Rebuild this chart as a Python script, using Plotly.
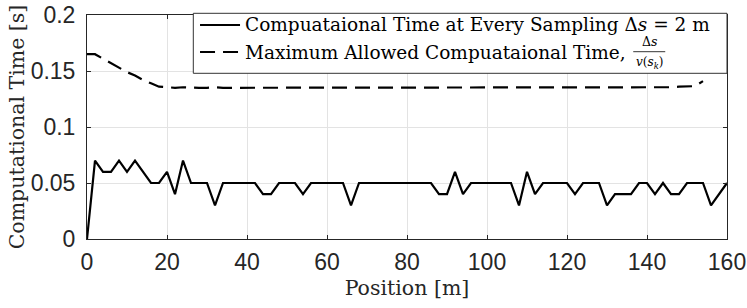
import plotly.graph_objects as go

# Position samples (every 2 m)
pos = list(range(0, 162, 2))
comp_time = [0.0, 0.07, 0.06, 0.06, 0.07, 0.06, 0.07, 0.06, 0.05, 0.05,
             0.06, 0.04, 0.07, 0.05, 0.05, 0.05, 0.03, 0.05, 0.05, 0.05,
             0.05, 0.05, 0.04, 0.04, 0.05, 0.05, 0.05, 0.04, 0.05, 0.05,
             0.05, 0.05, 0.05, 0.03, 0.05, 0.05, 0.05, 0.05, 0.05, 0.05,
             0.05, 0.05, 0.05, 0.05, 0.04, 0.04, 0.06, 0.04, 0.05, 0.05,
             0.05, 0.05, 0.05, 0.05, 0.03, 0.06, 0.04, 0.05, 0.05, 0.05,
             0.05, 0.04, 0.05, 0.05, 0.05, 0.03, 0.04, 0.04, 0.04, 0.05,
             0.05, 0.04, 0.05, 0.04, 0.04, 0.05, 0.05, 0.05, 0.03, 0.04,
             0.05]

max_pos = list(range(0, 156, 2))
max_time = [0.165, 0.165, 0.161, 0.157, 0.153, 0.149, 0.146, 0.142, 0.139, 0.136,
            0.1355, 0.135, 0.1355, 0.135, 0.135, 0.135, 0.1355, 0.135, 0.135, 0.1355,
            0.1355, 0.135, 0.135, 0.135, 0.1355, 0.1355, 0.135, 0.1355, 0.135, 0.135,
            0.135, 0.1355, 0.1355, 0.135, 0.135, 0.135, 0.1355, 0.135, 0.135, 0.1355,
            0.1355, 0.1355, 0.135, 0.135, 0.135, 0.1355, 0.135, 0.1355, 0.135, 0.135,
            0.135, 0.135, 0.1355, 0.135, 0.135, 0.135, 0.1355, 0.135, 0.135, 0.135,
            0.1355, 0.135, 0.135, 0.1355, 0.135, 0.135, 0.135, 0.135, 0.1355, 0.135,
            0.135, 0.1355, 0.135, 0.1355, 0.136, 0.136, 0.1365, 0.141]

x_ticks = [0, 20, 40, 60, 80, 100, 120, 140, 160]
y_ticks = [0, 0.05, 0.1, 0.15, 0.2]
y_tick_text = ["0", "0.05", "0.1", "0.15", "0.2"]

legend_solid = "Compuataional Time at Every Sampling Δ<i>s</i> = 2 m"
legend_dashed = "Maximum Allowed Compuataional Time,"
frac_num = "Δ<i>s</i>"
frac_den = "<i>v</i>(<i>s<sub>k</sub></i>)"

serif = "DejaVu Serif, serif"
sans = "Liberation Sans, Arial, sans-serif"
ink = "#262626"
solid_dash = "solid"
dashed_dash = "15px,8px"

fig = go.Figure()
fig.add_trace(go.Scatter(
    x=pos, y=comp_time, mode="lines",
    line=dict(color="black", width=2.2, dash=solid_dash),
    name=legend_solid, showlegend=False,
))
fig.add_trace(go.Scatter(
    x=max_pos, y=max_time, mode="lines",
    line=dict(color="black", width=2.2, dash=dashed_dash),
    name=legend_dashed, showlegend=False,
))

axis_common = dict(
    showgrid=True, gridcolor="#e3e3e3", gridwidth=1,
    showline=True, linecolor=ink, linewidth=1, mirror="ticks",
    ticks="inside", ticklen=4, tickcolor=ink,
    tickfont=dict(family=sans, size=23, color=ink),
    zeroline=False, automargin=False,
)

# ---- hand-built legend (paper coordinates) ----
box = dict(x0=0.1661, x1=1.0, y0=0.7397, y1=1.0076)
row1_y, row2_y = 0.9554, 0.8348
sample_x0, sample_x1, text_x = 0.1766, 0.2391, 0.2442
frac_x, frac_half, frac_bar_y = 0.8785, 0.025, 0.8362

shapes = [
    dict(type="rect", xref="paper", yref="paper", **box,
         line=dict(color="#333333", width=1), fillcolor="white", layer="above"),
    dict(type="line", xref="paper", yref="paper", x0=sample_x0, x1=sample_x1,
         y0=row1_y, y1=row1_y, line=dict(color="black", width=2.2, dash=solid_dash)),
    dict(type="line", xref="paper", yref="paper", x0=sample_x0, x1=sample_x1,
         y0=row2_y, y1=row2_y, line=dict(color="black", width=2.2, dash=dashed_dash)),
    dict(type="line", xref="paper", yref="paper", x0=frac_x - frac_half, x1=frac_x + frac_half,
         y0=frac_bar_y, y1=frac_bar_y, line=dict(color="black", width=0.8)),
]

annotations = [
    dict(text=legend_solid, xref="paper", yref="paper", x=text_x, y=row1_y,
         xanchor="left", yanchor="middle", showarrow=False,
         font=dict(family=serif, size=18.5, color="black")),
    dict(text=legend_dashed, xref="paper", yref="paper", x=text_x, y=row2_y,
         xanchor="left", yanchor="middle", showarrow=False,
         font=dict(family=serif, size=18.5, color="black")),
    dict(text=frac_num, xref="paper", yref="paper", x=frac_x, y=frac_bar_y + 0.003,
         xanchor="center", yanchor="bottom", showarrow=False,
         font=dict(family=serif, size=12.5, color="black")),
    dict(text=frac_den, xref="paper", yref="paper", x=frac_x, y=frac_bar_y - 0.004,
         xanchor="center", yanchor="top", showarrow=False,
         font=dict(family=serif, size=12, color="black")),
]

fig.update_layout(
    width=747, height=308,
    margin=dict(l=87, r=20, t=15, b=69),
    paper_bgcolor="white", plot_bgcolor="white",
    showlegend=False,
    shapes=shapes, annotations=annotations,
    xaxis=dict(
        range=[0, 160], tickvals=x_ticks, ticklabelstandoff=2,
        title=dict(text="Position [m]", font=dict(family=serif, size=20.5, color=ink), standoff=7),
        **axis_common,
    ),
    yaxis=dict(
        range=[0, 0.2], tickvals=y_ticks, ticktext=y_tick_text, ticklabelstandoff=6,
        title=dict(text="Computational Time [s]", font=dict(family=serif, size=20.5, color=ink), standoff=0),
        **axis_common,
    ),
)

fig.write_html("out.html", config={"displayModeBar": False},
               post_script="document.body.style.margin='0';")
